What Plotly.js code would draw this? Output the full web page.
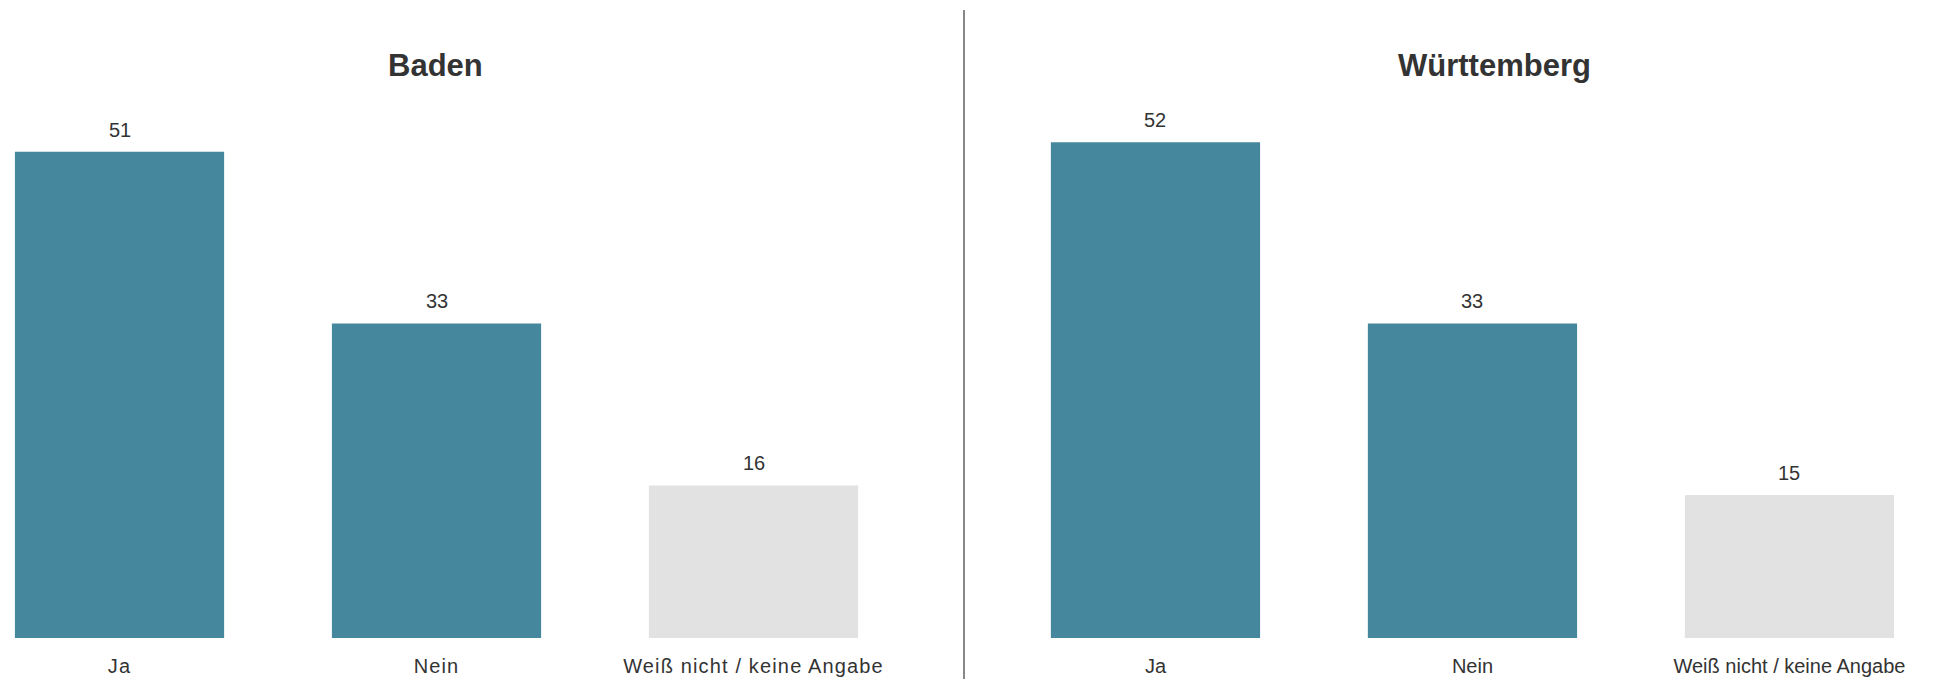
<!DOCTYPE html>
<html>
<head>
<meta charset="utf-8">
<script src="https://cdn.plot.ly/plotly-3.0.1.min.js"></script>
<style>
html, body { margin: 0; padding: 0; background: #fff; }
#chart { width: 1941px; height: 679px; }
.xtick text { letter-spacing: 1.15px; }
</style>
</head>
<body>
<div id="chart"></div>
<script>
const categories = ["Ja", "Nein", "Weiß nicht / keine Angabe"];
const panelTitles = ["Baden", "Württemberg"];
const badenValues = [51, 33, 16];
const wuerttembergValues = [52, 33, 15];

const teal = "#45879d";
const grey = "#e2e2e2";
const barColors = [teal, teal, grey];
const textColor = "#333333";
const fontFamily = "Liberation Sans, Arial, sans-serif";

function barTrace(values, xa, ya) {
  return {
    type: "bar",
    x: categories,
    y: values,
    xaxis: xa,
    yaxis: ya,
    marker: { color: barColors, line: { width: 0 } },
    hoverinfo: "none",
    showlegend: false
  };
}

const data = [
  barTrace(badenValues, "x", "y"),
  barTrace(wuerttembergValues, "x2", "y2")
];

function valueAnnotations(values, xa, ya) {
  return values.map((v, i) => ({
    x: categories[i], y: v, xref: xa, yref: ya,
    text: String(v), showarrow: false,
    xanchor: "center", yanchor: "bottom", yshift: 9,
    font: { family: fontFamily, size: 20, color: textColor }
  }));
}

const split = 964 / 1941;

const axisCommon = {
  type: "category",
  showgrid: false, zeroline: false, showline: false,
  ticks: "", ticklabelstandoff: 14,
  tickfont: { family: fontFamily, size: 20, color: textColor },
  fixedrange: true
};
const yCommon = {
  range: [0, 60], showgrid: false, zeroline: false, showline: false,
  showticklabels: false, ticks: "", fixedrange: true
};

const layout = {
  width: 1941, height: 679,
  margin: { l: 0, r: 0, t: 66, b: 41 },
  paper_bgcolor: "#ffffff", plot_bgcolor: "#ffffff",
  bargap: 0.34,
  xaxis: Object.assign({}, axisCommon, { domain: [0, split], range: [-0.377, 2.664], anchor: "y" }),
  yaxis: Object.assign({}, yCommon, { domain: [0, 1], anchor: "x" }),
  xaxis2: Object.assign({}, axisCommon, { domain: [split, 1], range: [-0.604, 2.478], anchor: "y2" }),
  yaxis2: Object.assign({}, yCommon, { domain: [0, 1], anchor: "x2" }),
  annotations: [
    { text: "<b>" + panelTitles[0] + "</b>", xref: "paper", yref: "paper",
      x: 435 / 1941, y: 1, xanchor: "center", yanchor: "middle", yshift: 1, showarrow: false,
      font: { family: fontFamily, size: 31, color: textColor } },
    { text: "<b>" + panelTitles[1] + "</b>", xref: "paper", yref: "paper",
      x: 1494 / 1941, y: 1, xanchor: "center", yanchor: "middle", yshift: 1, showarrow: false,
      font: { family: fontFamily, size: 31, color: textColor } }
  ].concat(valueAnnotations(badenValues, "x", "y"), valueAnnotations(wuerttembergValues, "x2", "y2")),
  shapes: [
    { type: "line", xref: "paper", yref: "paper", x0: split, x1: split,
      y0: (679 - 41 - 10) / 572, y1: -41 / 572,
      line: { color: "#888888", width: 2 } }
  ]
};

Plotly.newPlot("chart", data, layout, { displayModeBar: false, staticPlot: true });
</script>
</body>
</html>
